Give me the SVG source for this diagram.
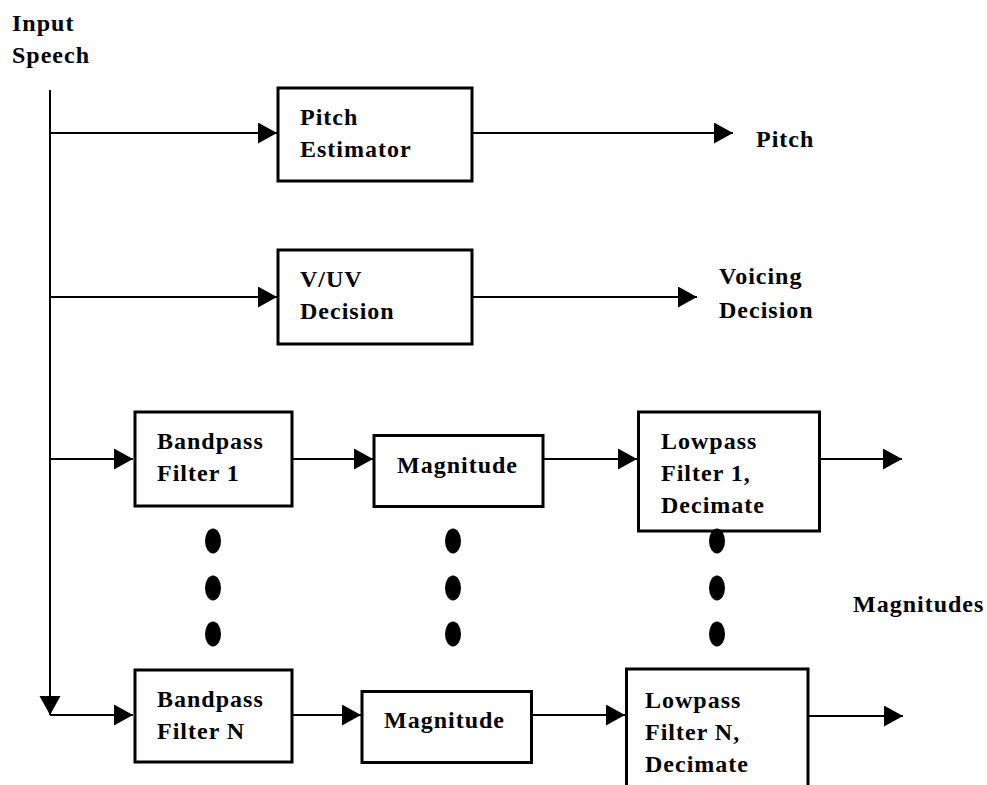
<svg xmlns="http://www.w3.org/2000/svg" width="987" height="785" viewBox="0 0 987 785">
<style>
  .box { fill: #fff; stroke: #000; stroke-width: 3; }
  .ln { fill: none; stroke: #000; stroke-width: 2; }
  .arr { marker-end: url(#ah); }
  text { font-family: "Liberation Serif", "Times New Roman", serif; font-weight: bold; font-size: 24px; letter-spacing: 1px; fill: #000; }
  .dot { fill: #000; }
</style>
<defs>
  <marker id="ah" markerUnits="userSpaceOnUse" markerWidth="20" markerHeight="22" refX="19" refY="10.5" orient="auto">
    <path d="M0,0 L19,10.5 L0,21 z" fill="#000"/>
  </marker>
</defs>
<rect width="987" height="785" fill="#fff"/>
<g id="connectors">
  <path class="ln arr" d="M50,90 V715"/>
  <path class="ln arr" d="M50,133 H277"/>
  <path class="ln arr" d="M473,133 H733"/>
  <path class="ln arr" d="M50,297 H277"/>
  <path class="ln arr" d="M473,297 H697"/>
  <path class="ln arr" d="M50,459 H133"/>
  <path class="ln arr" d="M293,459 H373"/>
  <path class="ln arr" d="M544,459 H637"/>
  <path class="ln arr" d="M821,459 H902"/>
  <path class="ln arr" d="M50,715 H133"/>
  <path class="ln arr" d="M293,715 H361"/>
  <path class="ln arr" d="M533,715 H625"/>
  <path class="ln arr" d="M809,716 H903"/>
</g>
<g id="input-label">
  <text x="12" y="31">Input</text>
  <text x="12" y="63">Speech</text>
</g>
<g id="pitch-estimator">
  <rect class="box" x="278" y="88" width="194" height="93"/>
  <text x="300" y="125">Pitch</text>
  <text x="300" y="157">Estimator</text>
</g>
<g id="pitch-out">
  <text x="756" y="147">Pitch</text>
</g>
<g id="vuv-decision">
  <rect class="box" x="278" y="250" width="194" height="94"/>
  <text x="300" y="287">V/UV</text>
  <text x="300" y="319">Decision</text>
</g>
<g id="voicing-out">
  <text x="719" y="284">Voicing</text>
  <text x="719" y="318">Decision</text>
</g>
<g id="bandpass-1">
  <rect class="box" x="135" y="412" width="157" height="94"/>
  <text x="157" y="449">Bandpass</text>
  <text x="157" y="481">Filter 1</text>
</g>
<g id="magnitude-1">
  <rect class="box" x="374" y="435.5" width="169" height="71"/>
  <text x="397" y="473">Magnitude</text>
</g>
<g id="lowpass-1">
  <rect class="box" x="638.5" y="412" width="181" height="119"/>
  <text x="661" y="449">Lowpass</text>
  <text x="661" y="481">Filter 1,</text>
  <text x="661" y="513">Decimate</text>
</g>
<g id="dots">
  <ellipse class="dot" cx="213" cy="541" rx="8" ry="12.5"/>
  <ellipse class="dot" cx="213" cy="588" rx="8" ry="12.5"/>
  <ellipse class="dot" cx="213" cy="634" rx="8" ry="12.5"/>
  <ellipse class="dot" cx="453" cy="541" rx="8" ry="12.5"/>
  <ellipse class="dot" cx="453" cy="588" rx="8" ry="12.5"/>
  <ellipse class="dot" cx="453" cy="634" rx="8" ry="12.5"/>
  <ellipse class="dot" cx="717" cy="541" rx="8" ry="12.5"/>
  <ellipse class="dot" cx="717" cy="588" rx="8" ry="12.5"/>
  <ellipse class="dot" cx="717" cy="634" rx="8" ry="12.5"/>
</g>
<g id="magnitudes-label">
  <text x="853" y="612">Magnitudes</text>
</g>
<g id="bandpass-n">
  <rect class="box" x="135" y="670" width="157" height="92"/>
  <text x="157" y="707">Bandpass</text>
  <text x="157" y="739">Filter N</text>
</g>
<g id="magnitude-n">
  <rect class="box" x="362" y="691.5" width="169.5" height="71"/>
  <text x="384" y="728">Magnitude</text>
</g>
<g id="lowpass-n">
  <rect class="box" x="626.5" y="669" width="181.5" height="130"/>
  <text x="645" y="708">Lowpass</text>
  <text x="645" y="740">Filter N,</text>
  <text x="645" y="772">Decimate</text>
</g>
</svg>
